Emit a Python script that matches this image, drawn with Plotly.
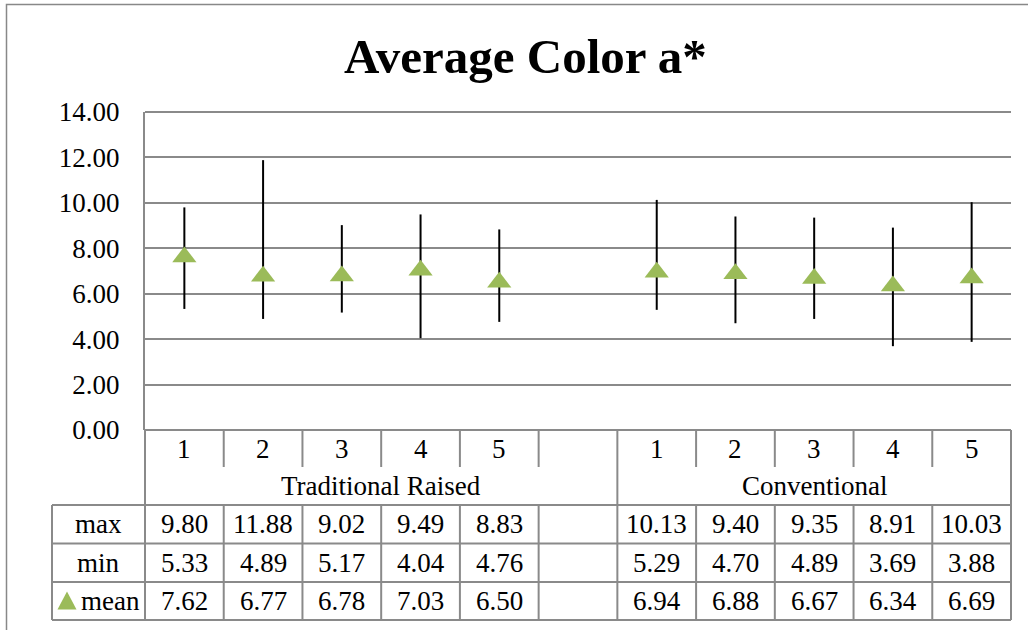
import plotly.graph_objects as go

# ---- data -------------------------------------------------------------
categories = ["1", "2", "3", "4", "5", "", "1", "2", "3", "4", "5"]
group_names = ["Traditional Raised", "Conventional"]
group_ranges = [(0, 6), (6, 11)]          # [start, end) category indices
max_vals = [9.80, 11.88, 9.02, 9.49, 8.83, None, 10.13, 9.40, 9.35, 8.91, 10.03]
min_vals = [5.33, 4.89, 5.17, 4.04, 4.76, None, 5.29, 4.70, 4.89, 3.69, 3.88]
mean_vals = [7.62, 6.77, 6.78, 7.03, 6.50, None, 6.94, 6.88, 6.67, 6.34, 6.69]
row_labels = ["max", "min", "mean"]
y_ticks = [0, 2, 4, 6, 8, 10, 12, 14]

# ---- geometry (pixels) ------------------------------------------------
W, H = 1028, 630
L, R, T, B = 145, 1011, 112, 430          # plot area
CAT_ROW = (430, 467)
GROUP_ROW = (467, 505)
TABLE_ROWS = [(505, 543.5), (543.5, 582), (582, 620)]
TABLE_LEFT = 52

GRID = "#8a8a8a"
GREEN = "#9BBB59"
FONT = "Liberation Serif, Times New Roman, serif"
FS = 27

n = len(categories)
xs = list(range(n))


def fx(p):
    return (p - L) / (R - L)


def fy(p):
    return (B - p) / (B - T)


def boundary_px(i):
    return L + i * (R - L) / n


def center_px(i):
    return L + (i + 0.5) * (R - L) / n


err_plus = [(mx - m) if m is not None else 0 for mx, m in zip(max_vals, mean_vals)]
err_minus = [(m - mn) if m is not None else 0 for mn, m in zip(min_vals, mean_vals)]

fig = go.Figure()
fig.add_trace(go.Scatter(
    x=xs, y=mean_vals, mode="markers", name="mean",
    marker=dict(symbol="triangle-up", size=21, color=GREEN),
    error_y=dict(type="data", symmetric=False, array=err_plus,
                 arrayminus=err_minus, color="#000000", thickness=2, width=0),
    showlegend=False, hoverinfo="skip",
))

shapes = []


def hline(py, x0, x1):
    shapes.append(dict(type="line", xref="paper", yref="paper", layer="below",
                       x0=fx(x0), x1=fx(x1), y0=fy(py), y1=fy(py),
                       line=dict(color=GRID, width=2)))


def vline(px, y0, y1):
    shapes.append(dict(type="line", xref="paper", yref="paper", layer="below",
                       x0=fx(px), x1=fx(px), y0=fy(y0), y1=fy(y1),
                       line=dict(color=GRID, width=2)))


# top gridline and category axis line
hline(T, L, R)
hline(B, L, R)
hline(GROUP_ROW[1], TABLE_LEFT, R)
group_edges = {s for s, e in group_ranges} | {e for s, e in group_ranges}
for i in range(n + 1):
    bx = boundary_px(i)
    if i in group_edges:
        vline(bx, CAT_ROW[0], GROUP_ROW[1])
    else:
        vline(bx, CAT_ROW[0], CAT_ROW[1])

# data table grid
for top, bot in TABLE_ROWS:
    hline(bot, TABLE_LEFT, R)
vline(TABLE_LEFT, TABLE_ROWS[0][0], TABLE_ROWS[-1][1])
for i in range(n + 1):
    vline(boundary_px(i), TABLE_ROWS[0][0], TABLE_ROWS[-1][1])

# outer chart frame
shapes.append(dict(type="rect", xref="paper", yref="paper",
                   x0=fx(6.5), x1=fx(1060), y0=fy(4.5), y1=fy(660),
                   line=dict(color="#888888", width=1.5), fillcolor="rgba(0,0,0,0)"))

# legend key for the mean row
key_y = (TABLE_ROWS[2][0] + TABLE_ROWS[2][1]) / 2
shapes.append(dict(type="path", xref="paper", yref="paper",
                   path=(f"M {fx(57.5)},{fy(key_y + 8.5)} L {fx(76.5)},{fy(key_y + 8.5)} "
                         f"L {fx(67)},{fy(key_y - 9.5)} Z"),
                   fillcolor=GREEN, line=dict(width=0)))

annotations = []


def text(t, px, py, size=FS, **kw):
    annotations.append(dict(text=t, xref="paper", yref="paper", x=fx(px), y=fy(py),
                            xanchor=kw.pop("xanchor", "center"), yanchor="middle",
                            showarrow=False, font=dict(family=FONT, size=size,
                                                       color="#000000", **kw)))


# title
text("Average Color a*", 525, 56, size=49, weight="bold")

# category and group labels
cat_mid = (CAT_ROW[0] + CAT_ROW[1]) / 2
for i, c in enumerate(categories):
    if c:
        text(c, center_px(i), cat_mid)
grp_mid = (GROUP_ROW[0] + GROUP_ROW[1]) / 2
for name, (s, e) in zip(group_names, group_ranges):
    text(name, (boundary_px(s) + boundary_px(e)) / 2, grp_mid)

# table contents
for (top, bot), label, vals in zip(TABLE_ROWS, row_labels, [max_vals, min_vals, mean_vals]):
    mid = (top + bot) / 2
    if label == "mean":
        text(label, 79, mid, xanchor="left")
    else:
        text(label, (TABLE_LEFT + L) / 2, mid)
    for i, v in enumerate(vals):
        if v is not None:
            text(f"{v:.2f}", center_px(i), mid)

fig.update_layout(
    width=W, height=H, autosize=False,
    margin=dict(l=L, r=W - R, t=T, b=H - B, pad=0),
    paper_bgcolor="white", plot_bgcolor="white",
    xaxis=dict(range=[-0.5, n - 0.5], showgrid=False, zeroline=False,
               showticklabels=False, ticks="", showline=False, fixedrange=True),
    yaxis=dict(range=[0, 14], tickvals=y_ticks, tickformat=".2f",
               showgrid=True, gridcolor=GRID, gridwidth=2, zeroline=False,
               showline=True, linecolor=GRID, linewidth=2, ticks="",
               ticklabelstandoff=18, tickfont=dict(family=FONT, size=FS, color="#000000"),
               fixedrange=True),
    shapes=shapes, annotations=annotations, showlegend=False,
)

fig.write_html("out.html")
